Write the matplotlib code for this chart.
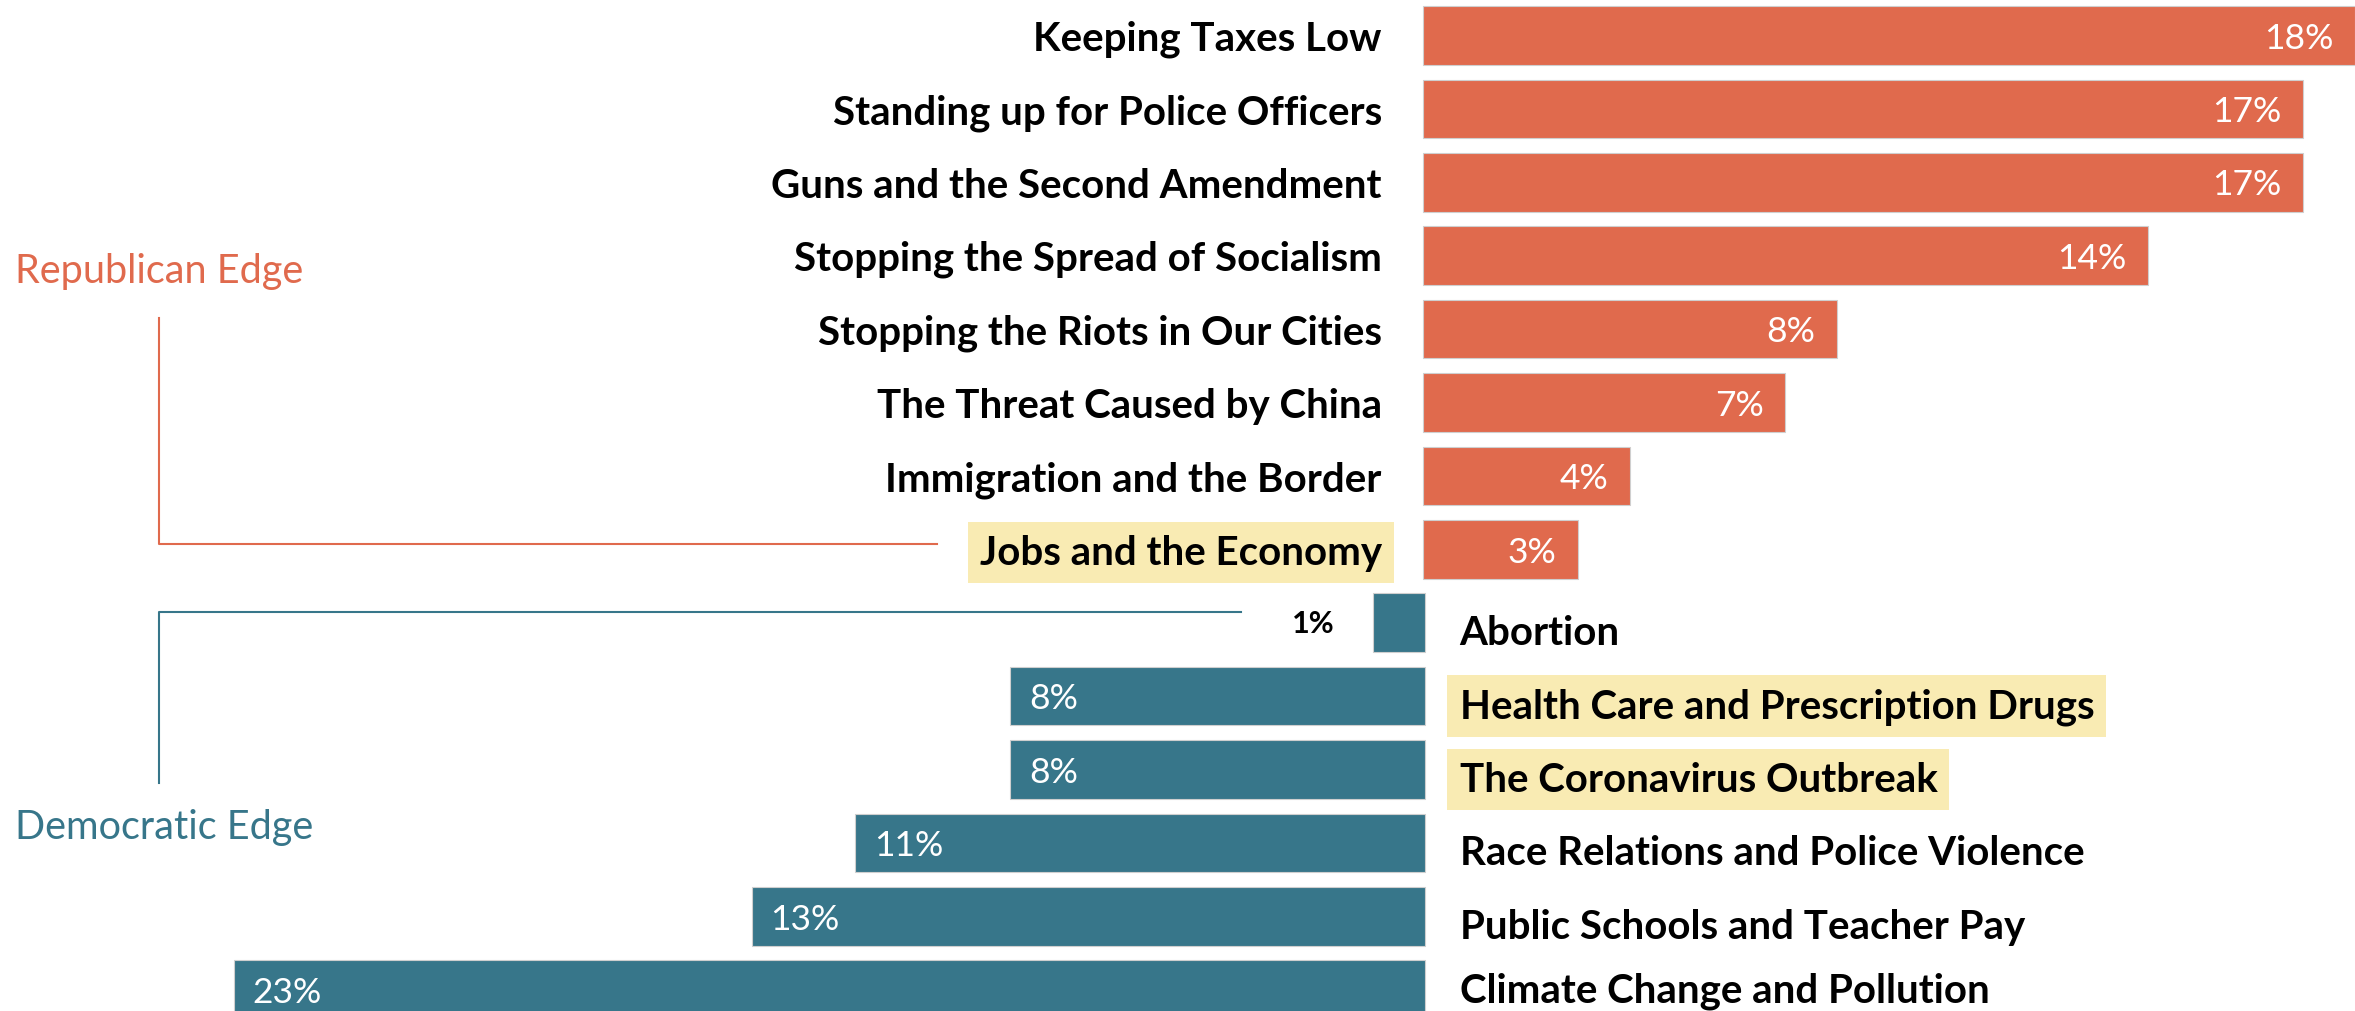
import matplotlib.pyplot as plt

# Issues where one party has the edge (percent)
rep_issues = ['Keeping Taxes Low', 'Standing up for Police Officers',
              'Guns and the Second Amendment', 'Stopping the Spread of Socialism',
              'Stopping the Riots in Our Cities', 'The Threat Caused by China',
              'Immigration and the Border', 'Jobs and the Economy']
rep_values = [18, 17, 17, 14, 8, 7, 4, 3]

dem_issues = ['Abortion', 'Health Care and Prescription Drugs',
              'The Coronavirus Outbreak', 'Race Relations and Police Violence',
              'Public Schools and Teacher Pay', 'Climate Change and Pollution']
dem_values = [1, 8, 8, 11, 13, 23]

highlighted = ['Jobs and the Economy', 'Health Care and Prescription Drugs',
               'The Coronavirus Outbreak']

REP = '#E06A4D'
DEM = '#37768A'
HL = '#F9EBB3'
FONT = 'Lato'

fig = plt.figure(figsize=(23.55, 10.12), dpi=100)
ax = fig.add_axes([0, 0, 1, 1])

rep_y = list(range(len(rep_issues)))
dem_y = [len(rep_issues) + i for i in range(len(dem_issues))]

ax.barh(rep_y, rep_values, height=0.8, color=REP, edgecolor='#cfcfcf', linewidth=0.8)
ax.barh(dem_y, [-v for v in dem_values], height=0.8, left=0.04,
        color=DEM, edgecolor='#cfcfcf', linewidth=0.8)

ymax = 13.29  # bottom edge of the figure in row units

# Republican labels + values
for y, name, v in zip(rep_y, rep_issues, rep_values):
    bbox = dict(boxstyle='square,pad=0.3', fc=HL, ec='none') if name in highlighted else None
    ax.text(-0.79, y + 0.04, name, ha='right', va='center', fontsize=29, fontweight='bold',
            family=FONT, color='black', bbox=bbox)
    ax.text(v - 0.42, y + 0.03, f'{v}%', ha='right', va='center', fontsize=25.5,
            family=FONT, color='white')

# Democratic labels + values (baseline aligned, last one kept inside the frame)
for y, name, v in zip(dem_y, dem_issues, dem_values):
    bbox = dict(boxstyle='square,pad=0.3', fc=HL, ec='none') if name in highlighted else None
    ax.text(0.71, min(y + 0.29, ymax - 0.13), name, ha='left', va='baseline',
            fontsize=29, fontweight='bold', family=FONT, color='black', bbox=bbox)
    if v < 3:
        ax.text(-v - 0.7, y, f'{v}%', ha='right', va='center', fontsize=22,
                fontweight='bold', family=FONT, color='black')
    else:
        ax.text(-v + 0.4, y + 0.03, f'{v}%', ha='left', va='center', fontsize=25.5,
                family=FONT, color='white')

# Side brackets
ax.plot([-24.4, -24.4, -9.38], [3.85, 6.93, 6.93], color=REP, lw=1.5)
ax.plot([-3.51, -24.4, -24.4], [7.85, 7.85, 10.18], color=DEM, lw=1.5)
ax.text(-27.18, 3.2, 'Republican Edge', ha='left', va='center', fontsize=28.5,
        family=FONT, color=REP)
ax.text(-27.18, 10.78, 'Democratic Edge', ha='left', va='center', fontsize=28.5,
        family=FONT, color=DEM)

ax.set_xlim(-27.47, 18.0)
ax.set_ylim(ymax, -0.497)
ax.axis('off')

fig.savefig('out.png', dpi=100)
